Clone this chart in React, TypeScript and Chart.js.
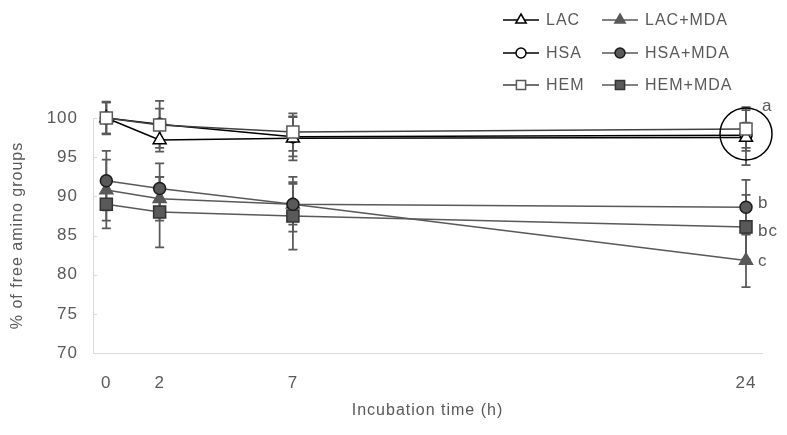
import React, { useEffect, useRef } from "react";
import { Chart, registerables } from "chart.js";
Chart.register(...registerables);

// ---- data ----
const hours = [0, 2, 7, 24];
const xTicks = [0, 2, 7, 24];
const yTicks = [70, 75, 80, 85, 90, 95, 100];

const lac = [100, 97.2, 97.4, 97.5];
const lacErr = [2.0, 1.5, 2.8, 3.5];
const hsa = [100, 99.2, 97.6, 97.8];
const hsaErr = [2.0, 3.0, 2.5, 1.6];
const hem = [100, 99.1, 98.2, 98.6];
const hemErr = [2.1, 2.1, 2.4, 2.8];
const lacMda = [90.8, 89.7, 89.0, 81.8];
const lacMdaErr = [3.9, 2.8, 2.6, 3.4];
const hsaMda = [92.0, 91.0, 89.0, 88.6];
const hsaMdaErr = [3.8, 3.2, 3.5, 3.5];
const hemMda = [89.0, 88.0, 87.5, 86.1];
const hemMdaErr = [3.1, 4.5, 4.3, 4.1];

const legendOrder = ["LAC", "LAC+MDA", "HSA", "HSA+MDA", "HEM", "HEM+MDA"];

const FONT = "'Liberation Sans', Arial, sans-serif";
const TEXT = "#595959";

type S = {
  label: string;
  data: number[];
  err: number[];
  line: string;
  fill: string;
  stroke: string;
  style: "triangle" | "circle" | "rect";
  r: number;
  lr: number;
  z: number;
};

const series: S[] = [
  { label: "LAC", data: lac, err: lacErr, line: "#000000", fill: "#ffffff", stroke: "#000000", style: "triangle", r: 7.5, lr: 6, z: 2 },
  { label: "HSA", data: hsa, err: hsaErr, line: "#000000", fill: "#ffffff", stroke: "#000000", style: "circle", r: 6, lr: 5, z: 3 },
  { label: "HEM", data: hem, err: hemErr, line: "#404040", fill: "#ffffff", stroke: "#595959", style: "rect", r: 8.5, lr: 6.5, z: 0 },
  { label: "LAC+MDA", data: lacMda, err: lacMdaErr, line: "#595959", fill: "#595959", stroke: "#595959", style: "triangle", r: 7.5, lr: 6, z: 5 },
  { label: "HSA+MDA", data: hsaMda, err: hsaMdaErr, line: "#595959", fill: "#595959", stroke: "#1a1a1a", style: "circle", r: 6, lr: 5, z: 1 },
  { label: "HEM+MDA", data: hemMda, err: hemMdaErr, line: "#595959", fill: "#595959", stroke: "#333333", style: "rect", r: 8.5, lr: 6.5, z: 4 },
];

function drawMarker(ctx: CanvasRenderingContext2D, s: S, x: number, y: number, r: number) {
  ctx.save();
  ctx.fillStyle = s.fill;
  ctx.strokeStyle = s.stroke;
  ctx.lineWidth = 1.5;
  ctx.beginPath();
  if (s.style === "circle") {
    ctx.arc(x, y, r, 0, Math.PI * 2);
  } else if (s.style === "rect") {
    const h = r * Math.SQRT1_2;
    ctx.rect(x - h, y - h, 2 * h, 2 * h);
  } else {
    for (let i = 0; i < 3; i++) {
      const a = (i * 2 * Math.PI) / 3;
      const px = x + Math.sin(a) * r;
      const py = y - Math.cos(a) * r;
      if (i === 0) ctx.moveTo(px, py);
      else ctx.lineTo(px, py);
    }
    ctx.closePath();
  }
  ctx.fill();
  ctx.stroke();
  ctx.restore();
}

const extras = {
  id: "extras",
  beforeDraw(chart: any) {
    (chart.ctx as any).letterSpacing = "1px";
  },
  beforeDatasetsDraw(chart: any) {
    const ctx: CanvasRenderingContext2D = chart.ctx;
    const xs = chart.scales.x;
    const ys = chart.scales.y;
    // inner tick marks on y axis
    ctx.save();
    ctx.strokeStyle = "#d9d9d9";
    ctx.lineWidth = 1;
    yTicks.forEach((v) => {
      const py = Math.round(ys.getPixelForValue(v)) + 0.5;
      ctx.beginPath();
      ctx.moveTo(xs.left, py);
      ctx.lineTo(xs.left + 4, py);
      ctx.stroke();
    });
    // error bars
    ctx.strokeStyle = "#595959";
    ctx.lineWidth = 1.75;
    series.forEach((s) => {
      s.data.forEach((v, i) => {
        const px = xs.getPixelForValue(hours[i]);
        const top = ys.getPixelForValue(v + s.err[i]);
        const bot = ys.getPixelForValue(v - s.err[i]);
        ctx.beginPath();
        ctx.moveTo(px, top);
        ctx.lineTo(px, bot);
        ctx.moveTo(px - 4.5, top);
        ctx.lineTo(px + 4.5, top);
        ctx.moveTo(px - 4.5, bot);
        ctx.lineTo(px + 4.5, bot);
        ctx.stroke();
      });
    });
    ctx.restore();
  },
  afterDatasetsDraw(chart: any) {
    const ctx: CanvasRenderingContext2D = chart.ctx;
    const xs = chart.scales.x;
    const ys = chart.scales.y;
    const last = hours.length - 1;
    const px = xs.getPixelForValue(hours[last]);
    // circle around the top group at 24 h
    const topMean = (lac[last] + hsa[last] + hem[last]) / 3;
    ctx.save();
    ctx.strokeStyle = "#000000";
    ctx.lineWidth = 1.5;
    ctx.beginPath();
    ctx.arc(px, ys.getPixelForValue(topMean), 26, 0, Math.PI * 2);
    ctx.stroke();
    // significance letters
    ctx.fillStyle = TEXT;
    ctx.font = `17px ${FONT}`;
    ctx.textAlign = "left";
    ctx.textBaseline = "middle";
    ctx.fillText("a", px + 16, ys.getPixelForValue(hem[last] + hemErr[last]) - 1);
    ctx.fillText("b", px + 12, ys.getPixelForValue(hsaMda[last]) - 4);
    ctx.fillText("bc", px + 12, ys.getPixelForValue(hemMda[last]) + 4);
    ctx.fillText("c", px + 12, ys.getPixelForValue(lacMda[last]) + 1);
    ctx.restore();
  },
  afterDraw(chart: any) {
    const ctx: CanvasRenderingContext2D = chart.ctx;
    const cols = [503, 602];
    const rows = [20, 53, 85];
    ctx.save();
    legendOrder.forEach((name, k) => {
      const s = series.find((q) => q.label === name)!;
      const x0 = cols[k % 2];
      const y = rows[Math.floor(k / 2)];
      ctx.strokeStyle = s.line;
      ctx.lineWidth = 1.5;
      ctx.beginPath();
      ctx.moveTo(x0, y);
      ctx.lineTo(x0 + 36, y);
      ctx.stroke();
      drawMarker(ctx, s, x0 + 18, y, s.lr);
      ctx.fillStyle = TEXT;
      ctx.font = `16px ${FONT}`;
      ctx.textAlign = "left";
      ctx.textBaseline = "middle";
      ctx.fillText(name, x0 + 43, y + 1);
    });
    ctx.restore();
  },
};

export default function App() {
  const ref = useRef<HTMLCanvasElement>(null);
  useEffect(() => {
    document.body.style.margin = "0";
    const chart = new Chart(ref.current!, {
      type: "line",
      data: {
        datasets: series.map((s) => ({
          label: s.label,
          order: s.z,
          data: s.data.map((v, i) => ({ x: hours[i], y: v })),
          borderColor: s.line,
          borderWidth: 1.5,
          backgroundColor: s.fill,
          pointStyle: s.style,
          pointRadius: s.r,
          pointHoverRadius: s.r,
          pointBackgroundColor: s.fill,
          pointBorderColor: s.stroke,
          pointBorderWidth: 1.5,
          tension: 0,
          fill: false,
          clip: false as any,
        })),
      },
      options: {
        animation: false,
        responsive: false,
        events: [],
        layout: { padding: { top: 118, right: 25, left: 0, bottom: 0 } },
        plugins: { legend: { display: false }, tooltip: { enabled: false } },
        scales: {
          x: {
            type: "linear",
            min: -0.5,
            max: 24.6,
            afterBuildTicks: (sc: any) => {
              sc.ticks = xTicks.map((v) => ({ value: v }));
            },
            afterFit: (sc: any) => {
              sc.height = 82;
            },
            grid: { display: false, drawTicks: false },
            border: { display: true, color: "#d9d9d9", width: 1 },
            ticks: {
              color: TEXT,
              font: { family: FONT, size: 17 },
              padding: 20,
              autoSkip: false,
              maxRotation: 0,
            },
            title: {
              display: true,
              text: "Incubation time (h)",
              color: TEXT,
              font: { family: FONT, size: 16 },
              padding: { top: 0, bottom: 15 },
            },
          },
          y: {
            min: 70,
            max: 100,
            afterBuildTicks: (sc: any) => {
              sc.ticks = yTicks.map((v) => ({ value: v }));
            },
            afterFit: (sc: any) => {
              sc.width = 93;
            },
            grid: { display: false, drawTicks: false },
            border: { display: true, color: "#d9d9d9", width: 1 },
            ticks: {
              color: TEXT,
              font: { family: FONT, size: 17 },
              padding: 15,
            },
            title: {
              display: true,
              text: "% of free amino groups",
              color: TEXT,
              font: { family: FONT, size: 16 },
              padding: { top: 8, bottom: 0 },
            },
          },
        },
      },
      plugins: [extras],
    } as any);
    return () => chart.destroy();
  }, []);
  return (
    <div style={{ width: 787, height: 435 }}>
      <canvas ref={ref} width={787} height={435} style={{ display: "block" }} />
    </div>
  );
}
